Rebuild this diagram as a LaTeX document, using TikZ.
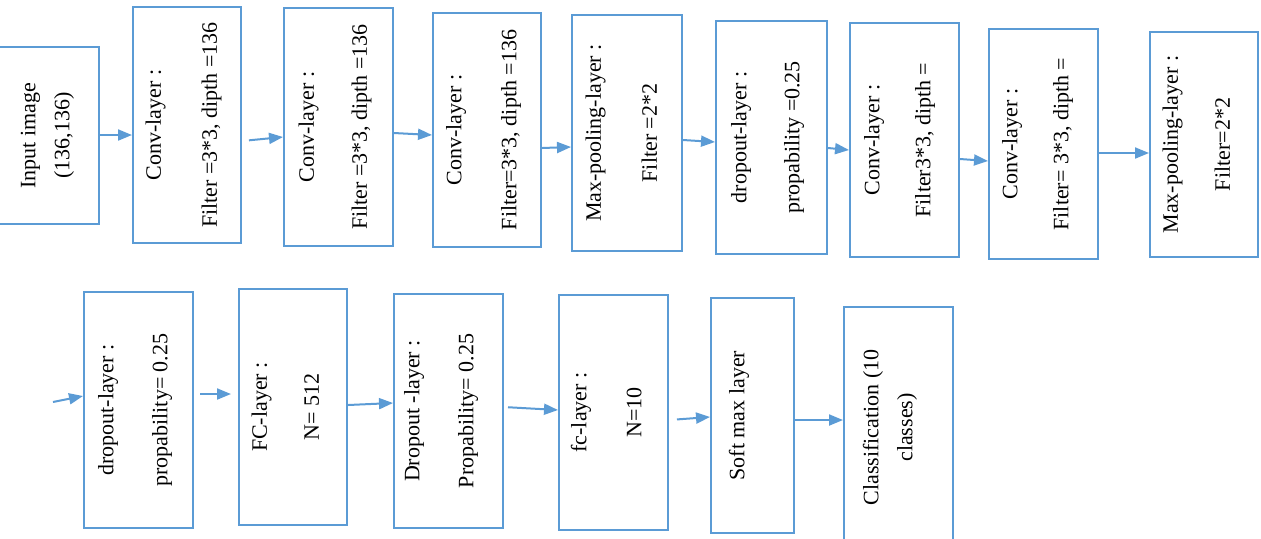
\documentclass[tikz,border=0pt]{standalone}
\usepackage{fontspec}
\setmainfont{Liberation Serif}
\usepackage{graphicx}
\usepackage{tikz}
\usetikzlibrary{arrows.meta}
\definecolor{layerblue}{HTML}{5B9BD5}
\newcommand{\vtext}[2][5pt]{\rotatebox{90}{\begin{tabular}{@{}c@{}}#2\end{tabular}}\rule{#1}{0pt}}

\begin{document}
\begin{tikzpicture}[
    x=0.5pt, y=-0.5pt,
    every node/.style={font=\fontsize{11}{17}\selectfont},
    layer/.style={rectangle, draw=layerblue, line width=1pt, inner sep=0pt},
    arrow/.style={-{Triangle[length=7pt,width=5.5pt]}, layerblue, line width=1pt}
    ]
    \useasboundingbox (0,0) rectangle (1261,538);
    % first row
    \node[layer, minimum width=51pt, minimum height=88.5pt] (inp) at (47.5,135.5) {\vtext[2pt]{Input image\\(136,136)}};
    \node[layer, minimum width=54pt, minimum height=118pt] (conv1) at (187,125) {\vtext{Conv-layer :\\[11pt]Filter =3*3, dipth =136}};
    \node[layer, minimum width=54.5pt, minimum height=119pt] (conv2) at (338.5,127) {\vtext{Conv-layer :\\[9.5pt]Filter =3*3, dipth =136}};
    \node[layer, minimum width=54pt, minimum height=117pt] (conv3) at (487,130) {\vtext{Conv-layer :\\[10.5pt]Filter=3*3, dipth =136}};
    \node[layer, minimum width=55pt, minimum height=118pt] (pool1) at (627,133) {\vtext{Max-pooling-layer :\\[11pt]Filter =2*2}};
    \node[layer, minimum width=55.5pt, minimum height=116.5pt] (drop1) at (771.5,137.5) {\vtext[5.5pt]{dropout-layer :\\[9.5pt]propability =0.25}};
    \node[layer, minimum width=54.5pt, minimum height=117pt] (conv4) at (904.5,140) {\vtext[6.5pt]{Conv-layer :\\[8.5pt]Filter3*3, dipth =}};
    \node[layer, minimum width=54.5pt, minimum height=115pt] (conv5) at (1043.5,144) {\vtext[7.5pt]{Conv-layer :\\[8.5pt]Filter= 3*3, dipth =}};
    \node[layer, minimum width=54pt, minimum height=112.5pt] (pool2) at (1204,144.5) {\vtext[7pt]{Max-pooling-layer :\\[9pt]Filter=2*2}};
    % second row
    \coordinate (cont) at (53,402);
    \node[layer, minimum width=54.5pt, minimum height=118pt] (drop2) at (138.5,410) {\vtext{dropout-layer :\\[10pt]propability= 0.25}};
    \node[layer, minimum width=54pt, minimum height=118pt] (fc1) at (293,407) {\vtext[7pt]{FC-layer :\\[9pt]N= 512}};
    \node[layer, minimum width=54.5pt, minimum height=117pt] (drop3) at (448.5,411) {\vtext[9pt]{Dropout -layer :\\[10pt]Propability= 0.25}};
    \node[layer, minimum width=54.5pt, minimum height=117.5pt] (fc2) at (613.5,412.5) {\vtext[6.5pt]{fc-layer :\\[10.5pt]N=10}};
    \node[layer, minimum width=41.5pt, minimum height=117.5pt] (soft) at (752.5,415.5) {\vtext[15pt]{Soft max layer}};
    \node[layer, minimum width=54.5pt, minimum height=121pt] (cls) at (898.5,427.5) {\vtext[10pt]{Classification (10\\classes)}};
    % arrows
    \draw[arrow] (inp.east |- 0,135) -- (conv1.west |- 0,135);
    \draw[arrow, shorten <=3.5pt] (conv1.east |- 0,141) -- (conv2.west |- 0,137);
    \draw[arrow] (conv2.east |- 0,133) -- (conv3.west |- 0,135);
    \draw[arrow] (conv3.east |- 0,148) -- (pool1.west |- 0,147);
    \draw[arrow] (pool1.east |- 0,140) -- (drop1.west |- 0,142);
    \draw[arrow] (drop1.east |- 0,148) -- (conv4.west |- 0,150);
    \draw[arrow] (conv4.east |- 0,159) -- (conv5.west |- 0,161);
    \draw[arrow] (conv5.east |- 0,153) -- (pool2.west |- 0,153);
    \draw[arrow] (cont) -- (drop2.west |- 0,396);
    \draw[arrow, shorten <=3pt, shorten >=3.5pt] (drop2.east |- 0,394) -- (fc1.west |- 0,394);
    \draw[arrow] (fc1.east |- 0,405) -- (drop3.west |- 0,403);
    \draw[arrow, shorten <=2pt] (drop3.east |- 0,407) -- (fc2.west |- 0,410);
    \draw[arrow, shorten <=4pt] (fc2.east |- 0,420) -- (soft.west |- 0,417);
    \draw[arrow] (soft.east |- 0,420) -- (cls.west |- 0,420);
\end{tikzpicture}
\end{document}
